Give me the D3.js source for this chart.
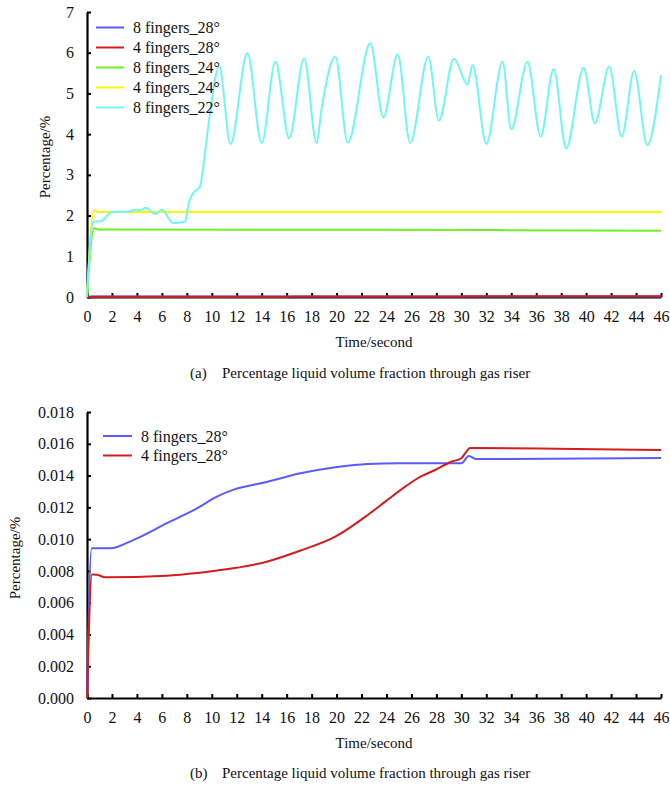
<!DOCTYPE html>
<html><head><meta charset="utf-8">
<script src="https://cdn.jsdelivr.net/npm/d3@7"></script>
<style>body{margin:0;background:#fff}svg{display:block}svg text{font-family:"Liberation Serif","Times New Roman",serif !important;fill:#111}</style>
</head><body>
<script>
// ---------- data ----------
const seriesNames = ["8 fingers_28°","4 fingers_28°","8 fingers_24°","4 fingers_24°","8 fingers_22°"];
const seriesColors = ["#5b5bff","#d41c1c","#6cf025","#f8f800","#70f6f6"];

const t8f28 = [0,0.37,1.85,3.7,6.4,9.05,10.1,11.7,14.4,17.1,19.9,22.5,25,30.0,30.6,31.2,46];
const v8f28 = [0,0.00942,0.00942,0.00994,0.0110,0.01204,0.01255,0.0131,0.0136,0.01414,0.01452,0.01473,0.01477,0.01477,0.01523,0.01504,0.0151];

const t4f28 = [0,0.4,0.8,1.5,6.4,9.05,11.7,14.4,17.07,19.9,22.5,23.9,25.5,26.5,27.9,29.2,30.0,30.3,30.7,46];
const v4f28 = [0,0.00778,0.00775,0.0076,0.0077,0.00789,0.00816,0.00858,0.00927,0.01015,0.01152,0.01236,0.0133,0.01383,0.01435,0.01487,0.01509,0.0154,0.01573,0.01561];

const t8f24 = [0,0.56,0.9,23,46];
const v8f24 = [0,1.69,1.66,1.65,1.63];

const t4f24 = [0,0.56,0.9,23,46];
const v4f24 = [0,2.13,2.09,2.09,2.09];

const t8f22 = [0,0.5,1.1,2.0,3.3,3.85,4.3,4.7,5.5,6.0,6.9,7.85,8.15,8.5,9.05,9.45,9.85,10.6,11.5,12.85,14.0,15.1,16.2,17.4,18.4,18.8,19.9,20.9,22.7,23.75,24.9,25.9,27.35,28.2,29.4,30.5,30.9,32.0,33.3,34.0,35.3,36.35,37.4,38.4,39.8,40.7,41.85,42.85,43.85,44.9,46];
const v8f22 = [0,1.85,1.86,2.09,2.1,2.14,2.13,2.19,2.04,2.14,1.82,1.85,2.3,2.55,2.71,3.53,4.5,5.66,3.76,5.99,3.78,5.78,3.9,5.86,3.78,4.62,5.9,3.79,6.23,4.41,5.96,3.78,5.9,4.33,5.85,5.22,5.7,3.76,5.78,4.12,5.78,3.94,5.6,3.65,5.63,4.27,5.66,3.94,5.55,3.73,5.45];

const xTicks = d3.range(0,47,2);
const yTicksA = [0,1,2,3,4,5,6,7];
const yTicksB = [0,0.002,0.004,0.006,0.008,0.010,0.012,0.014,0.016,0.018];

const captionA = "Percentage liquid volume fraction through gas riser";
const captionB = "Percentage liquid volume fraction through gas riser";

// ---------- drawing ----------
const FONT = "'Liberation Serif','Times New Roman',serif";
const svg = d3.select("body").append("svg").attr("width",670).attr("height",786)
  .style("font-family",FONT);

function zip(t,v){return t.map((d,i)=>({t:d,v:v[i]}));}
const allSeries = [zip(t8f28,v8f28),zip(t4f28,v4f28),zip(t8f24,v8f24),zip(t4f24,v4f24),zip(t8f22,v8f22)];

function panel(opt){
  const x = d3.scaleLinear().domain([0,46]).range([87,661]);
  const y = d3.scaleLinear().domain(opt.yDomain).range([opt.bottom,opt.top]);
  const g = svg.append("g");
  const xa = g.append("g").attr("transform",`translate(0,${opt.bottom})`)
    .call(d3.axisBottom(x).tickValues(xTicks).tickSizeInner(-4).tickSizeOuter(0).tickPadding(14).tickFormat(d3.format("d")));
  const ya = g.append("g").attr("transform",`translate(87,0)`)
    .call(d3.axisLeft(y).tickValues(opt.yTicks).tickSizeInner(-4).tickSizeOuter(0).tickPadding(13).tickFormat(opt.fmt));
  [xa,ya].forEach(a=>{
    a.attr("font-family",null);
    a.select(".domain").attr("stroke","#000").attr("stroke-width",2.2);
    a.selectAll(".tick line").attr("stroke","#000").attr("stroke-width",2);
    a.selectAll(".tick text").attr("font-size",16).attr("fill","#111").style("font-family",FONT);
  });
  const line = d3.line().x(d=>x(d.t)).y(d=>y(d.v)).curve(d3.curveMonotoneX);
  opt.idx.forEach(i=>{
    g.append("path").datum(allSeries[i]).attr("fill","none").attr("stroke",seriesColors[i])
      .attr("stroke-width",2).attr("d",line);
  });
  // legend
  opt.idx.forEach((i,k)=>{
    const ly = opt.legY + k*opt.legStep;
    g.append("line").attr("x1",opt.legX).attr("x2",opt.legX+opt.legW).attr("y1",ly).attr("y2",ly)
      .attr("stroke",seriesColors[i]).attr("stroke-width",2);
    g.append("text").attr("x",opt.legX+opt.legW+9).attr("y",ly+5.5).attr("font-size",16).style("font-family",FONT).text(seriesNames[i]);
  });
  // axis titles
  g.append("text").attr("x",374).attr("y",opt.bottom+50).attr("text-anchor","middle").attr("font-size",15).style("font-family",FONT).text("Time/second");
  g.append("text").attr("transform",`translate(${opt.ylabX},${opt.ylabY}) rotate(-90)`).attr("text-anchor","middle").attr("font-size",15).style("font-family",FONT).text("Percentage/%");
  // caption
  const c = g.append("text").attr("y",opt.capY).attr("font-size",15).style("font-family",FONT);
  c.append("tspan").attr("x",190).text(opt.capTag);
  c.append("tspan").attr("x",222).text(opt.caption);
}

panel({yDomain:[0,7],top:12,bottom:297,yTicks:yTicksA,fmt:d3.format("d"),idx:[0,1,2,3,4],
  legX:96,legW:28,legY:27.5,legStep:20,ylabX:50,ylabY:157,capY:378,capTag:"(a)",caption:captionA});
panel({yDomain:[0,0.018],top:412,bottom:698,yTicks:yTicksB,fmt:d3.format(".3f"),idx:[0,1],
  legX:103,legW:29,legY:436,legStep:19.5,ylabX:20,ylabY:558,capY:778,capTag:"(b)",caption:captionB});
</script>
</body></html>
